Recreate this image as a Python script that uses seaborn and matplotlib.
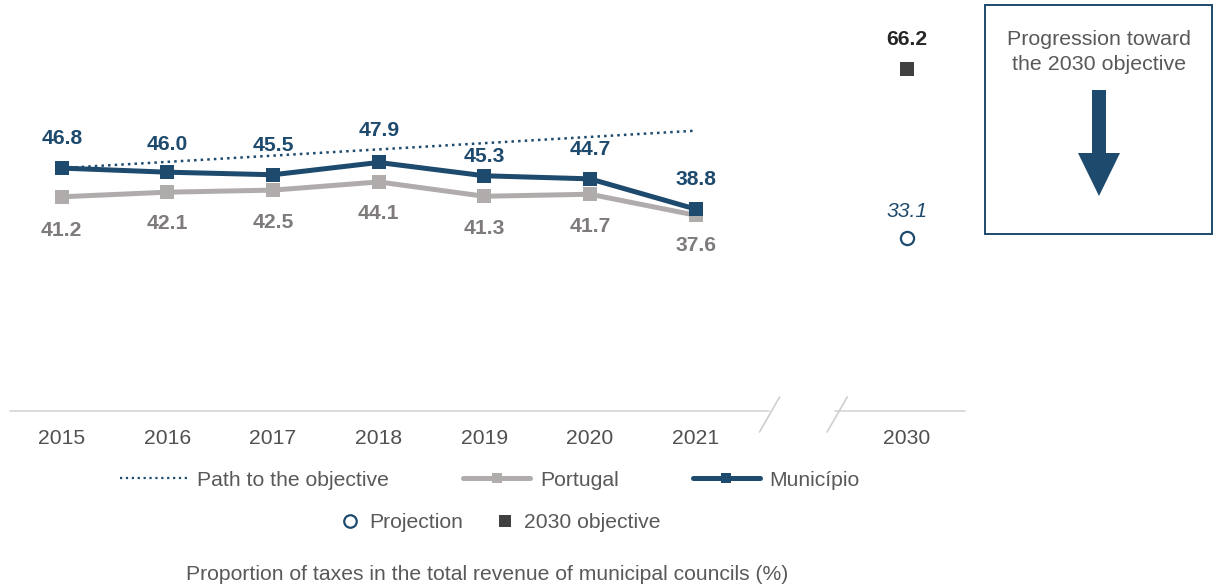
import matplotlib
matplotlib.use("Agg")
import matplotlib.pyplot as plt
import seaborn as sns
import pandas as pd
from matplotlib.lines import Line2D
from matplotlib.patches import Rectangle, Polygon

# ---------------- data ----------------
years = [2015, 2016, 2017, 2018, 2019, 2020, 2021]
municipio = [46.8, 46.0, 45.5, 47.9, 45.3, 44.7, 38.8]
portugal = [41.2, 42.1, 42.5, 44.1, 41.3, 41.7, 37.6]
path_years = [2015, 2021]
path_values = [46.8, 54.1]
target_year = 2030
objective_2030 = 66.2
projection_2030 = 33.1
tick_labels = ["2015", "2016", "2017", "2018", "2019", "2020", "2021", "2030"]
legend_row1 = ["Path to the objective", "Portugal", "Município"]
legend_row2 = ["Projection", "2030 objective"]
chart_title = "Proportion of taxes in the total revenue of municipal councils (%)"
box_text = "Progression toward\nthe 2030 objective"

# ---------------- style ----------------
sns.set_style("white")
plt.rcParams["font.family"] = ["Liberation Sans", "DejaVu Sans"]

C_MUN = "#1d4a6d"
C_POR = "#b0acac"
C_POR_TXT = "#7f7b7b"
C_OBJ = "#404040"
C_TXT = "#595959"
FS = 15.2

# label offsets in points (style)
mun_off = [21, 20, 21, 23, 14, 21, 21]
por_off = [-24, -22.5, -23, -22.5, -23, -23, -22]


def xpos(y):
    # compressed axis: 2022-2029 collapsed into a break
    return y - 2015 if y <= 2021 else 8


df = pd.DataFrame({"x": [xpos(y) for y in years],
                   "Município": municipio, "Portugal": portugal})
df_path = pd.DataFrame({"x": [xpos(y) for y in path_years], "v": path_values})
df_obj = pd.DataFrame({"x": [xpos(target_year)], "v": [objective_2030]})
df_proj = pd.DataFrame({"x": [xpos(target_year)], "v": [projection_2030]})

fig = plt.figure(figsize=(12.14, 5.88), dpi=100)
ax = fig.add_axes([10 / 1214, 177 / 588, 955 / 1214, 411 / 588])

sns.lineplot(data=df_path, x="x", y="v", ax=ax, color=C_MUN, linestyle=":",
             linewidth=1.8, zorder=2)
sns.lineplot(data=df, x="x", y="Portugal", ax=ax, color=C_POR, linewidth=3.6,
             marker="s", markersize=9.5, markeredgewidth=0, zorder=3)
sns.lineplot(data=df, x="x", y="Município", ax=ax, color=C_MUN, linewidth=3.6,
             marker="s", markersize=10, markeredgewidth=0, zorder=4)
sns.scatterplot(data=df_obj, x="x", y="v", ax=ax, color=C_OBJ, marker="s",
                s=95, linewidth=0, zorder=5)
sns.scatterplot(data=df_proj, x="x", y="v", ax=ax, facecolor="white",
                edgecolor=C_MUN, marker="o", s=90, linewidth=1.6, zorder=5)

# data labels
for x, v, o in zip(df["x"], municipio, mun_off):
    ax.annotate(f"{v:.1f}", (x, v), xytext=(0, o), textcoords="offset points",
                ha="center", va="center", fontsize=FS, fontweight="bold", color=C_MUN)
for x, v, o in zip(df["x"], portugal, por_off):
    ax.annotate(f"{v:.1f}", (x, v), xytext=(0, o), textcoords="offset points",
                ha="center", va="center", fontsize=FS, fontweight="bold", color=C_POR_TXT)
ax.annotate(f"{objective_2030:.1f}", (xpos(target_year), objective_2030), xytext=(0, 21),
            textcoords="offset points", ha="center", va="center", fontsize=FS,
            fontweight="bold", color="#262626")
ax.annotate(f"{projection_2030:.1f}", (xpos(target_year), projection_2030), xytext=(0, 19),
            textcoords="offset points", ha="center", va="center", fontsize=FS,
            fontstyle="italic", color=C_MUN)

ax.set_xlim(-0.49, 8.55)
ax.set_ylim(-0.6, 79.6)
ax.set_xticks([xpos(y) for y in years + [target_year]])
ax.set_xticklabels(tick_labels, fontsize=FS, color="#505050")
ax.tick_params(axis="x", length=0, pad=13)
ax.set_yticks([])
ax.set_xlabel("")
ax.set_ylabel("")
for s in ax.spines.values():
    s.set_visible(False)

# broken baseline
bt = ax.get_xaxis_transform()
ax.plot([-0.49, 6.69], [0, 0], transform=bt, color="#d9d9d9", lw=1.3, clip_on=False)
ax.plot([7.32, 8.55], [0, 0], transform=bt, color="#d9d9d9", lw=1.3, clip_on=False)
for c in (6.70, 7.34):
    ax.plot([c - 0.095, c + 0.095], [-0.051, 0.034], transform=bt, color="#cfcfcf",
            lw=1.2, clip_on=False)

# legends
h1 = [Line2D([], [], color=C_MUN, linestyle=":", lw=1.6),
      Line2D([], [], color=C_POR, lw=3.6, marker="s", markersize=7, markeredgewidth=0),
      Line2D([], [], color=C_MUN, lw=3.6, marker="s", markersize=7, markeredgewidth=0)]
leg1 = fig.legend(h1, legend_row1, loc="center", bbox_to_anchor=(490 / 1214, 1 - 480 / 588),
                  ncol=3, frameon=False, fontsize=FS, handlelength=3.2, handletextpad=0.45,
                  columnspacing=3.5, labelcolor=C_TXT)
h2 = [Line2D([], [], linestyle="none", marker="o", markersize=9, markerfacecolor="white",
             markeredgecolor=C_MUN, markeredgewidth=1.6),
      Line2D([], [], linestyle="none", marker="s", markersize=8.5, color=C_OBJ,
             markeredgewidth=0)]
leg2 = fig.legend(h2, legend_row2, loc="center", bbox_to_anchor=(500 / 1214, 1 - 523 / 588),
                  ncol=2, frameon=False, fontsize=FS, handlelength=1.0, handletextpad=0.4,
                  columnspacing=1.5, labelcolor=C_TXT)

fig.text(487 / 1214, 1 - 575 / 588, chart_title, ha="center", va="center",
         fontsize=FS, color=C_TXT)

# right info box
fig.patches.append(Rectangle((985 / 1214, 1 - 234 / 588), 227 / 1214, 229 / 588,
                             transform=fig.transFigure, fill=False, edgecolor=C_MUN,
                             linewidth=1.4))
fig.text(1099 / 1214, 1 - 52 / 588, box_text, ha="center", va="center",
         fontsize=15.4, color=C_TXT, linespacing=1.45)


def px(x, y):
    return (x / 100.0, (588 - y) / 100.0)


arrow = Polygon([px(1092, 90), px(1106, 90), px(1106, 153), px(1120, 153),
                 px(1099, 196), px(1078, 153), px(1092, 153)], closed=True,
                transform=fig.dpi_scale_trans, facecolor=C_MUN, edgecolor="none")
fig.patches.append(arrow)

fig.savefig("out.png", dpi=100)
